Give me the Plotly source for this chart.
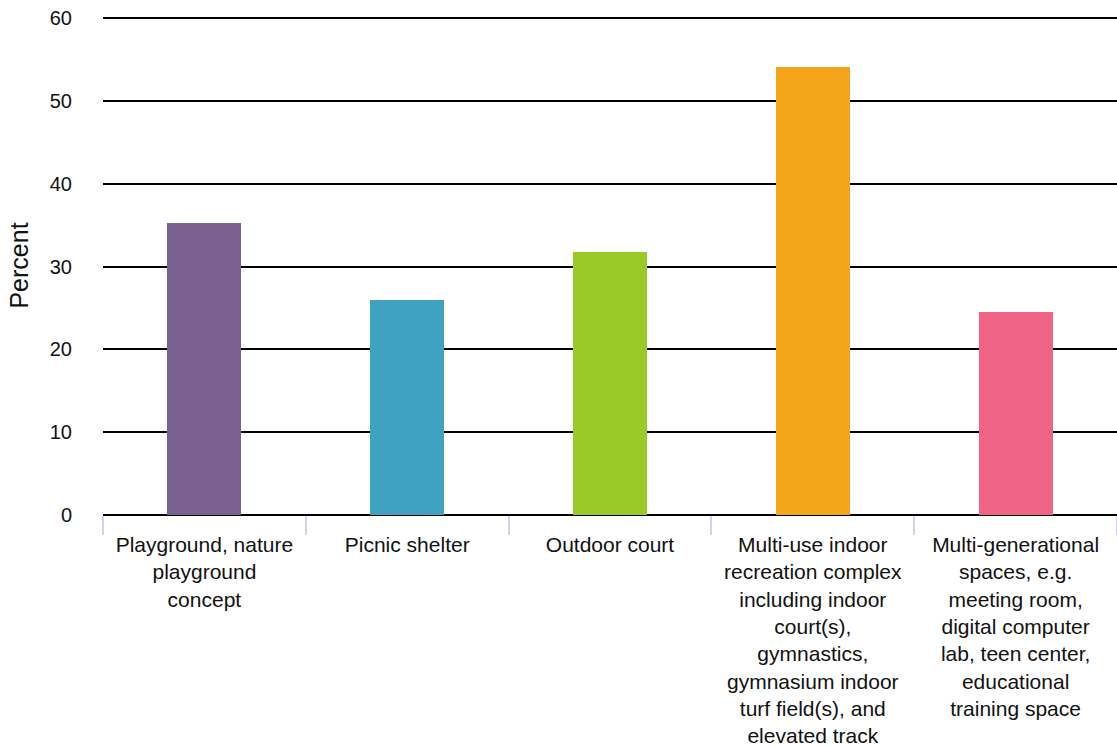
import plotly.graph_objects as go

categories = [
    "Playground, nature<br>playground<br>concept",
    "Picnic shelter",
    "Outdoor court",
    "Multi-use indoor<br>recreation complex<br>including indoor<br>court(s),<br>gymnastics,<br>gymnasium indoor<br>turf field(s), and<br>elevated track",
    "Multi-generational<br>spaces, e.g.<br>meeting room,<br>digital computer<br>lab, teen center,<br>educational<br>training space",
]
values = [35.2, 26.0, 31.7, 54.1, 24.5]
colors = ["#7b618f", "#3fa2c1", "#99ca28", "#f5a51a", "#f06487"]
y_ticks = [0, 10, 20, 30, 40, 50, 60]

fig = go.Figure(go.Bar(
    x=categories, y=values, marker=dict(color=colors, line=dict(width=0)),
    width=0.365, hoverinfo="skip",
))

fig.update_layout(
    width=1117, height=747,
    margin=dict(l=103, r=0, t=16, b=232, autoexpand=False),
    paper_bgcolor="white", plot_bgcolor="white",
    font=dict(family="Liberation Sans, Arial, sans-serif", size=20, color="#111111"),
    showlegend=False,
    bargap=0,
)
fig.update_xaxes(
    type="category", tickson="boundaries", ticks="outside", ticklen=19,
    tickcolor="#ccd6eb", tickwidth=2, showgrid=False, showline=False,
    tickfont=dict(size=21, color="#111111"), tickangle=0,
    ticklabelstandoff=15,
    range=[-0.5, 4.5],
)
fig.update_yaxes(
    range=[0, 60.25], tickvals=y_ticks, showgrid=True, gridcolor="#000000",
    gridwidth=2, zeroline=True, zerolinecolor="#000000", zerolinewidth=2,
    showline=False, ticks="", tickfont=dict(size=20, color="#111111"),
    ticklabelstandoff=30,
    title=dict(text="Percent", font=dict(size=25, color="#111111"), standoff=14),
)

post = (
    "document.body.style.margin='0px';document.body.style.padding='0px';"
    "document.documentElement.style.overflow='hidden';"
    "var gd=document.getElementById('{plot_id}');"
    "gd.style.width='1117px';gd.style.height='747px';"
    "Plotly.relayout(gd,{width:1117,height:747});"
)
fig.write_html("out.html", post_script=post, config={"displayModeBar": False})
